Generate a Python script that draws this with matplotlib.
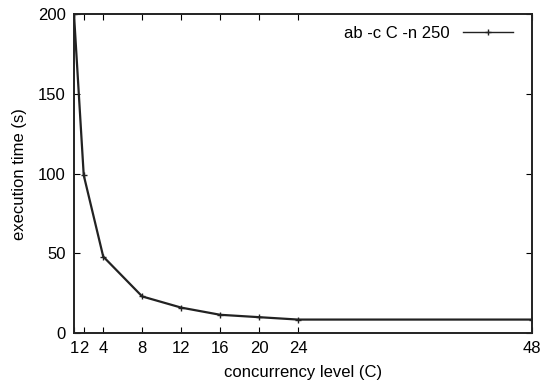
import matplotlib
matplotlib.use('Agg')
import matplotlib.pyplot as plt

# ab benchmark: execution time vs concurrency level
concurrency = [1, 2, 4, 8, 12, 16, 20, 24, 48]
exec_time = [200, 99, 48, 23, 16, 11.5, 10, 8.5, 8.5]
xtick_vals = [1, 2, 4, 8, 12, 16, 20, 24, 48]
ytick_vals = [0, 50, 100, 150, 200]

plt.rcParams['font.family'] = ['Liberation Sans', 'DejaVu Sans']

fig = plt.figure(figsize=(5.42, 3.91), dpi=100)
ax = fig.add_axes([0.1365, 0.148, 0.845, 0.816])

ax.plot(concurrency, exec_time, color='#222222', lw=1.6, marker='+', ms=5,
        mew=1.0, label='ab -c C -n 250')

ax.set_xlim(1, 48)
ax.set_ylim(0, 200)
ax.set_xticks(xtick_vals)
ax.set_yticks(ytick_vals)
ax.tick_params(direction='in', top=True, right=True, labelsize=12, length=4, pad=6)
for s in ax.spines.values():
    s.set_linewidth(1.4)
    s.set_color('#222222')

ax.set_xlabel('concurrency level (C)', fontsize=12, labelpad=6)
ax.set_ylabel('execution time (s)', fontsize=12, labelpad=8)

leg = ax.legend(loc='upper right', bbox_to_anchor=(0.985, 1.0), frameon=False,
                fontsize=12, handlelength=3, markerfirst=False, borderaxespad=0.3)
for h in leg.get_lines():
    h.set_linewidth(1.0)

fig.savefig('out.png', dpi=100)
